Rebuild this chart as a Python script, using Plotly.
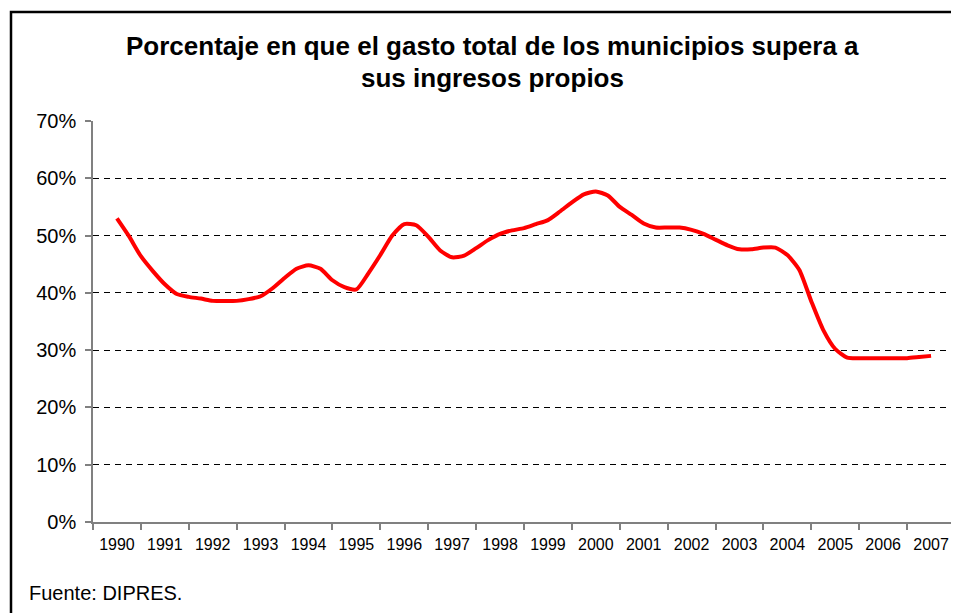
import plotly.graph_objects as go

years = [str(y) for y in range(1990, 2008)]
# quarterly positions (0 = 1990, 17 = 2007)
positions = [i * 0.25 for i in range(69)]
values = [
    53.0, 49.9, 46.4, 43.8,
    41.5, 39.8, 39.3, 39.0,
    38.6, 38.6, 38.6, 38.9,
    39.4, 40.8, 42.6, 44.2,
    44.8, 44.2, 42.2, 41.0,
    40.6, 43.4, 46.6, 50.0,
    52.0, 51.8, 49.8, 47.4,
    46.2, 46.5, 47.8, 49.2,
    50.3, 50.9, 51.3, 52.0,
    52.7, 54.2, 55.8, 57.2,
    57.7, 57.0, 55.0, 53.6,
    52.1, 51.4, 51.4, 51.4,
    51.0, 50.3, 49.3, 48.3,
    47.6, 47.6, 47.9, 47.9,
    46.6, 44.0, 38.5, 33.5,
    30.2, 28.7, 28.6, 28.6,
    28.6, 28.6, 28.6, 28.8,
    29.0,
]
y_ticks = [0, 10, 20, 30, 40, 50, 60, 70]
y_labels = [f"{v}%" for v in y_ticks]

title_lines = ["Porcentaje en que el gasto total de los municipios supera a",
               "sus ingresos propios"]
source = "Fuente: DIPRES."

FONT = "Liberation Sans, Arial, sans-serif"

# page body adds an 8px offset; figure coordinates below are page coords - 8
OFF = 8
W, H = 959 - OFF, 613 - OFF
PL, PR, PT, PB = 93 - OFF, 955 - OFF, 121 - OFF, 522 - OFF
PW, PH = PR - PL, PB - PT


def px(x):
    return (x - OFF - PL) / PW


def py(y):
    return (PB - (y - OFF)) / PH


fig = go.Figure()
fig.add_trace(go.Scatter(
    x=positions, y=values, mode="lines",
    line=dict(color="#FF0000", width=4, shape="spline", smoothing=0.6),
    hoverinfo="skip", showlegend=False,
))

fig.update_layout(
    width=W, height=H,
    margin=dict(l=PL, r=W - PR, t=PT, b=H - PB),
    paper_bgcolor="white", plot_bgcolor="white",
    font=dict(family=FONT, color="black"),
    showlegend=False,
    xaxis=dict(
        range=[-0.5, 17.5],
        tickmode="array", tickvals=list(range(len(years))), ticktext=years,
        ticks="", showgrid=False, zeroline=False,
        showline=True, linecolor="#808080", linewidth=1.5,
        tickfont=dict(size=16, family=FONT, color="black"),
        ticklabelstandoff=7,
        minor=dict(tickmode="linear", tick0=-0.5, dtick=1, ticks="outside",
                   ticklen=6, tickcolor="#808080", tickwidth=1.5, showgrid=False),
        fixedrange=True,
    ),
    yaxis=dict(
        range=[0, 70],
        tickmode="array", tickvals=y_ticks, ticktext=y_labels,
        ticks="outside", ticklen=6, tickcolor="#808080", tickwidth=1.5,
        showgrid=True, gridcolor="black", gridwidth=1, griddash="6px,5px",
        zeroline=False,
        showline=True, linecolor="#808080", linewidth=1.5,
        tickfont=dict(size=20, family=FONT, color="black"),
        ticklabelstandoff=5,
        fixedrange=True,
    ),
)

# outer border (open at right/bottom as in the reference)
fig.add_shape(type="rect", xref="paper", yref="paper",
              x0=px(11), x1=px(990),
              y0=py(650), y1=py(12),
              line=dict(color="black", width=2.5), fillcolor="rgba(0,0,0,0)")

fig.add_annotation(text="<b>" + title_lines[0] + "</b>", xref="paper", yref="paper",
                   x=px(492), y=py(46), xanchor="center", yanchor="middle",
                   showarrow=False, font=dict(size=26, family=FONT, color="black"))
fig.add_annotation(text="<b>" + title_lines[1] + "</b>", xref="paper", yref="paper",
                   x=px(492), y=py(78), xanchor="center", yanchor="middle",
                   showarrow=False, font=dict(size=26, family=FONT, color="black"))
fig.add_annotation(text=source, xref="paper", yref="paper",
                   x=px(27), y=py(593), xanchor="left", yanchor="middle",
                   showarrow=False, font=dict(size=20, family=FONT, color="black"))

fig.write_html("out.html")
